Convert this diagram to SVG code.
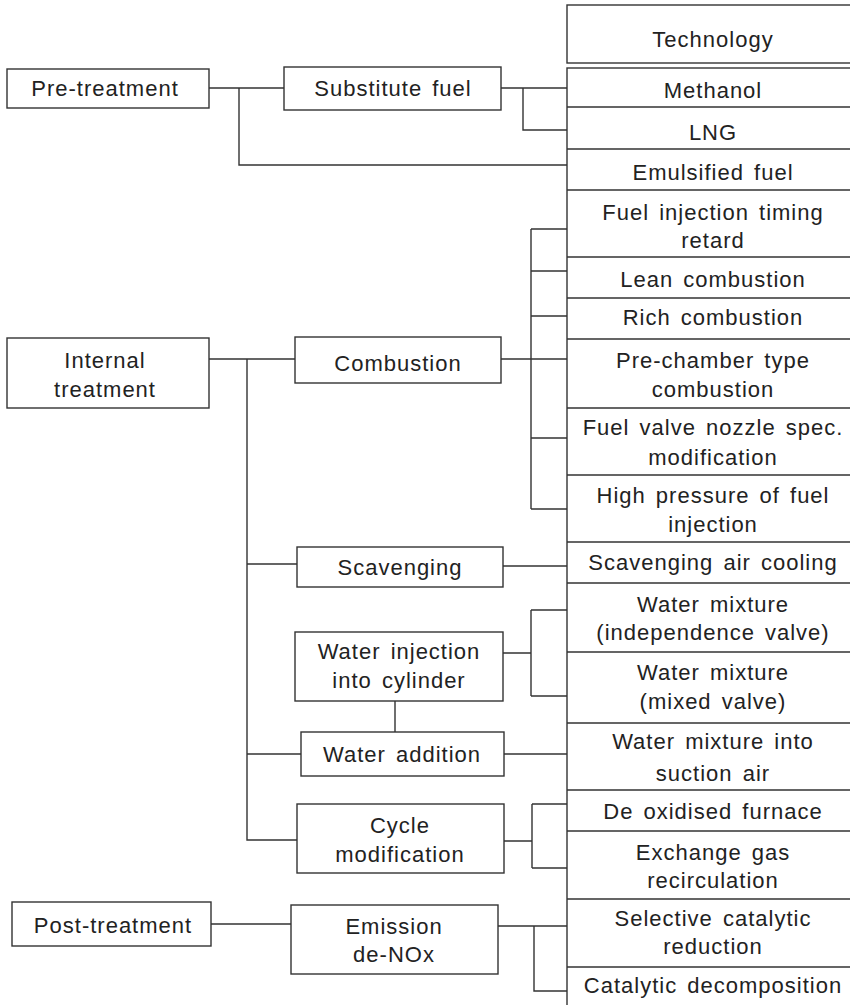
<svg xmlns="http://www.w3.org/2000/svg" width="850" height="1005" viewBox="0 0 850 1005">
<style>
.b{fill:#fff;stroke:#333;stroke-width:1.4}
.c{fill:none;stroke:#333;stroke-width:1.4}
text{font-family:"Liberation Sans",Arial,Helvetica,sans-serif;font-size:22px;fill:#222;text-anchor:middle;letter-spacing:1px;word-spacing:3px}
</style>
<rect width="850" height="1005" fill="#fff"/>
<g id="connectors" class="c">
<path d="M209 88H284M239 88V165H567M501 88H567M523 88V130H567"/>
<path d="M209 359H295M247 359V840H297M247 564H297M247 754H301"/>
<path d="M501 359H567M531 229V509M531 229H567M531 271H567M531 316H567M531 438H567M531 509H567"/>
<path d="M503 566H567"/>
<path d="M503 653H531M531 610V696M531 610H567M531 696H567M395 701V732"/>
<path d="M504 754H567"/>
<path d="M504 841H532M532 804V868M532 804H567M532 868H567"/>
<path d="M211 924H291M498 926H567M534 926V991H567"/>
</g>
<g id="technology"><rect class="b" x="567" y="5" width="300" height="58"/><text x="713" y="47">Technology</text></g>
<g id="column"><rect class="b" x="567" y="68" width="300" height="960"/>
<path class="c" d="M567 107H860M567 149H860M567 190H860M567 257H860M567 298H860M567 339H860M567 408H860M567 475H860M567 542H860M567 583H860M567 652H860M567 723H860M567 790H860M567 831H860M567 899H860M567 967H860"/>
</g>
<g id="methanol"><text x="713" y="98">Methanol</text></g>
<g id="lng"><text x="713" y="140">LNG</text></g>
<g id="emulsified"><text x="713" y="180">Emulsified fuel</text></g>
<g id="timing"><text x="713" y="220">Fuel injection timing</text><text x="713" y="248">retard</text></g>
<g id="lean"><text x="713" y="287">Lean combustion</text></g>
<g id="rich"><text x="713" y="325">Rich combustion</text></g>
<g id="prechamber"><text x="713" y="368">Pre-chamber type</text><text x="713" y="397">combustion</text></g>
<g id="nozzle"><text x="713" y="435">Fuel valve nozzle spec.</text><text x="713" y="465">modification</text></g>
<g id="highpressure"><text x="713" y="503">High pressure of fuel</text><text x="713" y="532">injection</text></g>
<g id="scavair"><text x="713" y="570">Scavenging air cooling</text></g>
<g id="wm1"><text x="713" y="612">Water mixture</text><text x="713" y="640">(independence valve)</text></g>
<g id="wm2"><text x="713" y="680">Water mixture</text><text x="713" y="709">(mixed valve)</text></g>
<g id="wm3"><text x="713" y="749">Water mixture into</text><text x="713" y="781">suction air</text></g>
<g id="deox"><text x="713" y="819">De oxidised furnace</text></g>
<g id="egr"><text x="713" y="860">Exchange gas</text><text x="713" y="888">recirculation</text></g>
<g id="scr"><text x="713" y="926">Selective catalytic</text><text x="713" y="954">reduction</text></g>
<g id="catdec"><text x="713" y="993">Catalytic decomposition</text></g>
<g id="pretreatment"><rect class="b" x="7" y="69" width="202" height="39"/><text x="105" y="96">Pre-treatment</text></g>
<g id="substitute"><rect class="b" x="284" y="67" width="217" height="43"/><text x="393" y="96">Substitute fuel</text></g>
<g id="internal"><rect class="b" x="7" y="338" width="202" height="70"/><text x="105" y="368">Internal</text><text x="105" y="397">treatment</text></g>
<g id="combustion"><rect class="b" x="295" y="337" width="206" height="46"/><text x="398" y="371">Combustion</text></g>
<g id="scavenging"><rect class="b" x="297" y="547" width="206" height="40"/><text x="400" y="575">Scavenging</text></g>
<g id="waterinj"><rect class="b" x="295" y="632" width="208" height="69"/><text x="399" y="659">Water injection</text><text x="399" y="688">into cylinder</text></g>
<g id="wateradd"><rect class="b" x="301" y="732" width="203" height="44"/><text x="402" y="762">Water addition</text></g>
<g id="cycle"><rect class="b" x="297" y="804" width="207" height="69"/><text x="400" y="833">Cycle</text><text x="400" y="862">modification</text></g>
<g id="posttreatment"><rect class="b" x="12" y="902" width="199" height="44"/><text x="113" y="933">Post-treatment</text></g>
<g id="emission"><rect class="b" x="291" y="905" width="207" height="69"/><text x="394" y="934">Emission</text><text x="394" y="962">de-NOx</text></g>
</svg>
